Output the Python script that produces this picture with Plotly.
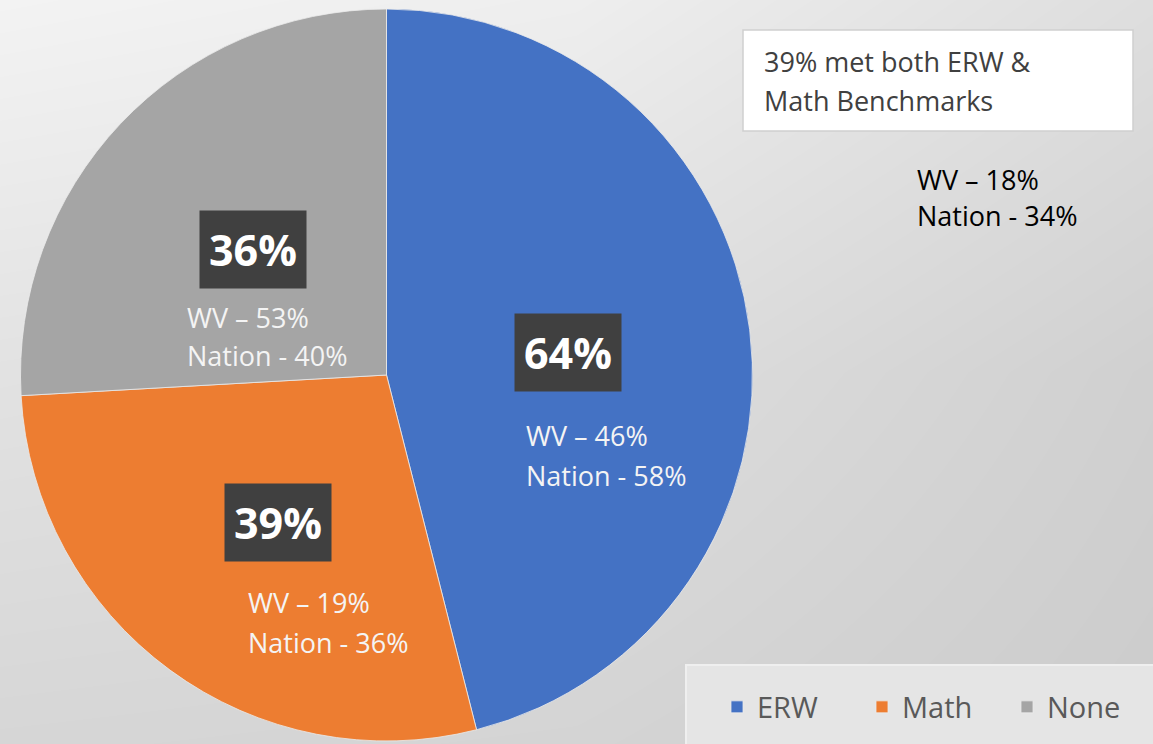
import math
import plotly.graph_objects as go

# ---------------- data ----------------
categories = ["ERW", "Math", "None"]
school_pct = [64, 39, 36]
wv_pct = [46, 19, 53]
nation_pct = [58, 36, 40]
both_school = 39
both_wv = 18
both_nation = 34

colors = ["#4472C4", "#ED7D31", "#A5A5A5"]

# ---------------- layout constants ----------------
W, H = 1153, 744
FONT = "Open Sans"
pie_x = [20.5, 752.5]     # px
pie_y = [9.0, 741.0]      # px (from top)
cx = (pie_x[0] + pie_x[1]) / 2
cy = (pie_y[0] + pie_y[1]) / 2
R = min(pie_x[1] - pie_x[0], pie_y[1] - pie_y[0]) / 2


def px(x):
    return x / W


def py(y):
    return 1 - y / H


fig = go.Figure()

# background gradient (style only)
bg_z = [[243, 238, 222],
        [226, 222, 208],
        [214, 212, 204]]
fig.add_trace(go.Heatmap(
    z=bg_z, x=[0, 0.5, 1], y=[1, 0.5, 0], zsmooth="best",
    colorscale=[[0, "rgb(195,195,195)"], [1, "rgb(245,245,245)"]],
    zmin=195, zmax=245, showscale=False, hoverinfo="skip",
    xaxis="x", yaxis="y",
))

fig.add_trace(go.Pie(
    labels=categories, values=school_pct, sort=False,
    direction="clockwise", rotation=0,
    marker=dict(colors=colors, line=dict(color="rgba(235,235,235,0.8)", width=1)),
    textinfo="none", hoverinfo="label+value",
    domain=dict(x=[px(pie_x[0]), px(pie_x[1])], y=[py(pie_y[1]), py(pie_y[0])]),
))

# label positions from slice mid-angles
total = sum(school_pct)
annotations = []
# per-slice offsets of the WV/Nation lines relative to the label box (style)
sub_dx = [-44, -32, -68]
sub_dy1 = [83, 80, 68]
sub_dy2 = [123, 120, 106]
start = 0.0
for i, v in enumerate(school_pct):
    span = 360.0 * v / total
    mid = math.radians(start + span / 2)
    start += span
    lx = cx + 0.5 * R * math.sin(mid)
    ly = cy - 0.5 * R * math.cos(mid)
    annotations.append(dict(
        x=px(lx), y=py(ly), xref="paper", yref="paper", showarrow=False,
        text=f"<b>{v}%</b>", bgcolor="#404040", borderpad=9,
        font=dict(family=FONT, size=43, color="white"),
        xanchor="center", yanchor="middle",
    ))
    annotations.append(dict(
        x=px(lx + sub_dx[i]), y=py(ly + sub_dy1[i]), xref="paper", yref="paper",
        showarrow=False, text=f"WV – {wv_pct[i]}%",
        font=dict(family=FONT, size=27, color="#F4F4F4"),
        xanchor="left", yanchor="middle",
    ))
    annotations.append(dict(
        x=px(lx + sub_dx[i]), y=py(ly + sub_dy2[i]), xref="paper", yref="paper",
        showarrow=False, text=f"Nation - {nation_pct[i]}%",
        font=dict(family=FONT, size=27, color="#F4F4F4"),
        xanchor="left", yanchor="middle",
    ))

# top-right note box
annotations += [
    dict(x=px(762), y=py(61), xref="paper", yref="paper", showarrow=False,
         text=f"{both_school}% met both ERW &", xanchor="left", yanchor="middle",
         font=dict(family=FONT, size=27, color="#404040")),
    dict(x=px(762), y=py(100), xref="paper", yref="paper", showarrow=False,
         text="Math Benchmarks", xanchor="left", yanchor="middle",
         font=dict(family=FONT, size=27, color="#404040")),
    dict(x=px(915), y=py(179), xref="paper", yref="paper", showarrow=False,
         text=f"WV – {both_wv}%", xanchor="left", yanchor="middle",
         font=dict(family=FONT, size=27, color="black")),
    dict(x=px(915), y=py(216), xref="paper", yref="paper", showarrow=False,
         text=f"Nation - {both_nation}%", xanchor="left", yanchor="middle",
         font=dict(family=FONT, size=27, color="black")),
]

shapes = [
    dict(type="rect", xref="paper", yref="paper",
         x0=px(743), x1=px(1133), y0=py(131), y1=py(30),
         fillcolor="white", line=dict(color="#D0D0D0", width=1.5), layer="above"),
    dict(type="rect", xref="paper", yref="paper",
         x0=px(686), x1=px(1160), y0=py(750), y1=py(665),
         fillcolor="#E5E5E5", line=dict(color="#EFEFEF", width=2), layer="above"),
]

fig.update_layout(
    width=W, height=H,
    margin=dict(l=0, r=0, t=0, b=0),
    paper_bgcolor="#E6E6E6", plot_bgcolor="rgba(0,0,0,0)",
    xaxis=dict(domain=[0, 1], range=[0, 1], visible=False, fixedrange=True),
    yaxis=dict(domain=[0, 1], range=[0, 1], visible=False, fixedrange=True),
    showlegend=True,
    legend=dict(
        orientation="h", x=px(717), y=py(707), xanchor="left", yanchor="middle",
        bgcolor="rgba(0,0,0,0)", font=dict(family=FONT, size=29, color="#595959"),
        entrywidth=100, entrywidthmode="pixels",
    ),
    annotations=annotations,
    shapes=shapes,
)

fig.write_html("out.html", config={"displayModeBar": False},
               post_script="document.body.style.margin='0';")
